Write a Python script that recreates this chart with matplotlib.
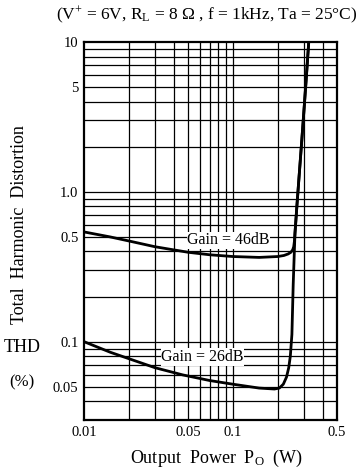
import matplotlib
matplotlib.use("Agg")
import matplotlib.pyplot as plt
from matplotlib.ticker import FixedLocator, NullLocator

plt.rcParams['font.family'] = ['Liberation Serif', 'DejaVu Serif']
plt.rcParams['mathtext.fontset'] = 'custom'
plt.rcParams['mathtext.rm'] = 'Liberation Serif'
plt.rcParams['mathtext.it'] = 'Liberation Serif:italic'

# Data
po_46 = [0.01, 0.015, 0.02, 0.03, 0.05, 0.07, 0.1, 0.15, 0.2, 0.22, 0.235, 0.245, 0.252, 0.256, 0.259, 0.261, 0.27, 0.29, 0.31, 0.323]
thd_46 = [0.54, 0.50, 0.47, 0.43, 0.395, 0.38, 0.37, 0.365, 0.37, 0.376, 0.385, 0.395, 0.41, 0.43, 0.47, 0.527, 0.85, 2.2, 5.5, 10.0]

po_26 = [0.01, 0.015, 0.02, 0.03, 0.046, 0.07, 0.1, 0.15, 0.19, 0.205, 0.218, 0.229, 0.237, 0.243, 0.249, 0.254, 0.261, 0.27, 0.29, 0.31, 0.323]
thd_26 = [0.10, 0.085, 0.077, 0.067, 0.060, 0.055, 0.052, 0.049, 0.0483, 0.049, 0.052, 0.058, 0.067, 0.08, 0.112, 0.24, 0.527, 0.85, 2.2, 5.5, 10.0]

x_ticks = [0.01, 0.05, 0.1, 0.5]
x_tick_labels = ['0.01', '0.05', '0.1', '0.5']
y_ticks = [0.05, 0.1, 0.5, 1.0, 5, 10]
y_tick_labels = ['0.05', '0.1', '0.5', '1.0', '5', '10']

x_grid = [0.02, 0.03, 0.04, 0.05, 0.06, 0.07, 0.08, 0.09, 0.1, 0.2, 0.3, 0.4]
y_grid = [0.04, 0.05, 0.06, 0.07, 0.08, 0.09, 0.1, 0.2, 0.3, 0.4, 0.5, 0.6, 0.7, 0.8, 0.9,
          1, 2, 3, 4, 5, 6, 7, 8, 9]

fig = plt.figure(figsize=(3.63, 4.70), dpi=100)
ax = fig.add_axes([84/363, 1-420/470, (337-84)/363, (420-42)/470])
ax.set_xscale('log')
ax.set_yscale('log')
ax.set_xlim(0.01, 0.5)
ax.set_ylim(0.03, 10)

for xv in x_grid:
    ax.axvline(xv, color='black', lw=0.9, zorder=1)
for yv in y_grid:
    ax.axhline(yv, color='black', lw=0.9, zorder=1)

ax.plot(po_46, thd_46, color='black', lw=2.0, zorder=3, solid_capstyle='round')
ax.plot(po_26, thd_26, color='black', lw=2.0, zorder=3, solid_capstyle='round')

ax.text(0.0935, 0.475, 'Gain = 46dB', fontsize=11.5, ha='center', va='center', zorder=4,
        bbox=dict(facecolor='white', edgecolor='none', pad=0.5))
ax.text(0.0625, 0.079, 'Gain = 26dB', fontsize=11.5, ha='center', va='center', zorder=4,
        bbox=dict(facecolor='white', edgecolor='none', pad=0.5))

ax.xaxis.set_major_locator(FixedLocator(x_ticks))
ax.set_xticklabels(x_tick_labels)
ax.xaxis.set_minor_locator(NullLocator())
ax.yaxis.set_major_locator(FixedLocator(y_ticks))
ax.set_yticklabels(y_tick_labels)
ax.yaxis.set_minor_locator(NullLocator())
ax.tick_params(length=0, labelsize=10.5, pad=4)

for sp in ax.spines.values():
    sp.set_linewidth(1.6)

fig.text(216/363, 1-458/470, r'Output  Power  P$_{\rm O}$  (W)', fontsize=13, ha='center', va='center')
fig.text(20/363, 1-225/470, 'Total  Harmonic  Distortion', fontsize=13, rotation=90, ha='center', va='center')
fig.text(22/363, 1-347/470, 'THD', fontsize=13, ha='center', va='center')
fig.text(22/363, 1-382/470, '(%)', fontsize=12, ha='center', va='center')
fig.text(207/363, 1-15/470, r'(V$^{+}$ = 6V, R$_{\rm L}$ = 8 $\Omega$ , f = 1kHz, Ta = 25°C)',
         fontsize=12.5, ha='center', va='center')

fig.savefig('out.png', dpi=100)
